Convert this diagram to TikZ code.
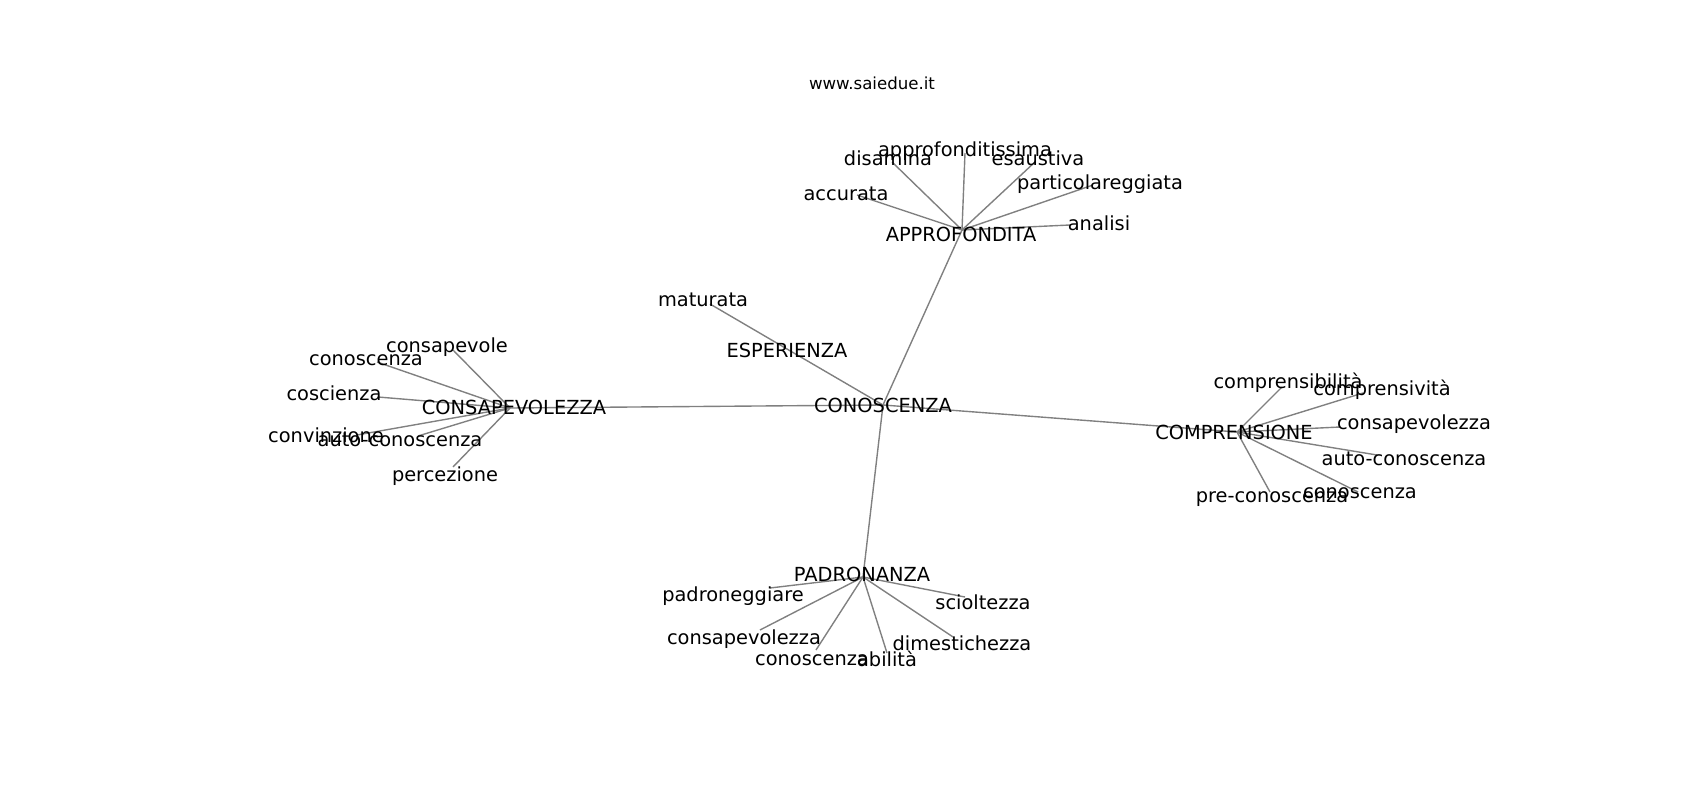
\documentclass[tikz,border=0pt]{standalone}
\usepackage{fontspec}
\setmainfont{DejaVu Sans}
\definecolor{edgegray}{RGB}{128,128,128}
\begin{document}
\begin{tikzpicture}[x=0.01in,y=-0.01in,
  lbl/.style={inner sep=0pt,text height=0.76em,text depth=0.21em,anchor=center,yshift=-0.035in,font=\fontsize{14}{17}\selectfont,text=black},
  ttl/.style={inner sep=0pt,text height=0.76em,text depth=0.21em,anchor=center,yshift=-0.035in,font=\fontsize{12}{14}\selectfont,text=black},
  edge/.style={draw=edgegray,line width=1pt}]
\useasboundingbox[fill=white] (0,0) rectangle (1700,800);
% edge end points
\coordinate (CON) at (883,405);
\coordinate (ESP) at (787,349);
\coordinate (APP) at (962,230);
\coordinate (PAD) at (863,577);
\coordinate (CSV) at (510,408);
\coordinate (CMP) at (1237,432);
% APPROFONDITA leaves
\coordinate (a1) at (857,195);
\coordinate (a2) at (892,162);
\coordinate (a3) at (965,153);
\coordinate (a4) at (1035,162);
\coordinate (a5) at (1093,185);
\coordinate (a6) at (1070,225);
% ESPERIENZA leaf
\coordinate (e1) at (710,304);
% CONSAPEVOLEZZA leaves
\coordinate (s1) at (453,350);
\coordinate (s2) at (377,362);
\coordinate (s3) at (378,397);
\coordinate (s4) at (357,435);
\coordinate (s5) at (418,436);
\coordinate (s6) at (453,467);
% COMPRENSIONE leaves
\coordinate (c1) at (1282,387);
\coordinate (c2) at (1363,393);
\coordinate (c3) at (1340,427);
\coordinate (c4) at (1377,455);
\coordinate (c5) at (1358,492);
\coordinate (c6) at (1270,492);
% PADRONANZA leaves
\coordinate (p1) at (770,588);
\coordinate (p2) at (965,597);
\coordinate (p3) at (760,630);
\coordinate (p4) at (816,650);
\coordinate (p5) at (887,653);
\coordinate (p6) at (953,637);
% edges
\draw[edge] (CON) -- (ESP) (ESP) -- (e1);
\draw[edge] (CON) -- (APP) (CON) -- (PAD) (CON) -- (CSV) (CON) -- (CMP);
\foreach \n in {a1,a2,a3,a4,a5,a6} \draw[edge] (APP) -- (\n);
\foreach \n in {s1,s2,s3,s4,s5,s6} \draw[edge] (CSV) -- (\n);
\foreach \n in {c1,c2,c3,c4,c5,c6} \draw[edge] (CMP) -- (\n);
\foreach \n in {p1,p2,p3,p4,p5,p6} \draw[edge] (PAD) -- (\n);
% labels
\node[ttl] (title) at (872,82) {www.saiedue.it};
\node[lbl] (tCON) at (883,405) {CONOSCENZA};
\node[lbl] (tESP) at (787,350) {ESPERIENZA};
\node[lbl] (tAPP) at (961,234) {APPROFONDITA};
\node[lbl] (tPAD) at (862,574) {PADRONANZA};
\node[lbl] (tCSV) at (514,407) {CONSAPEVOLEZZA};
\node[lbl] (tCMP) at (1234,432) {COMPRENSIONE};
\node[lbl] (ta1) at (846,193) {accurata};
\node[lbl] (ta2) at (888,158) {disamina};
\node[lbl] (ta3) at (965,149) {approfonditissima};
\node[lbl] (ta4) at (1038,158) {esaustiva};
\node[lbl] (ta5) at (1100,182) {particolareggiata};
\node[lbl] (ta6) at (1099,223) {analisi};
\node[lbl] (te1) at (703,299) {maturata};
\node[lbl] (ts1) at (447,345) {consapevole};
\node[lbl] (ts2) at (366,358) {conoscenza};
\node[lbl] (ts3) at (334,393) {coscienza};
\node[lbl] (ts4) at (326,435) {convinzione};
\node[lbl] (ts5) at (400,439) {auto-conoscenza};
\node[lbl] (ts6) at (445,474) {percezione};
\node[lbl] (tc1) at (1288,381) {comprensibilità};
\node[lbl] (tc2) at (1382,388) {comprensività};
\node[lbl] (tc3) at (1414,422) {consapevolezza};
\node[lbl] (tc4) at (1404,458) {auto-conoscenza};
\node[lbl] (tc5) at (1360,491) {conoscenza};
\node[lbl] (tc6) at (1272,495) {pre-conoscenza};
\node[lbl] (tp1) at (733,594) {padroneggiare};
\node[lbl] (tp2) at (983,602) {scioltezza};
\node[lbl] (tp3) at (744,637) {consapevolezza};
\node[lbl] (tp4) at (812,658) {conoscenza};
\node[lbl] (tp5) at (887,659) {abilità};
\node[lbl] (tp6) at (962,643) {dimestichezza};
\end{tikzpicture}
\end{document}
